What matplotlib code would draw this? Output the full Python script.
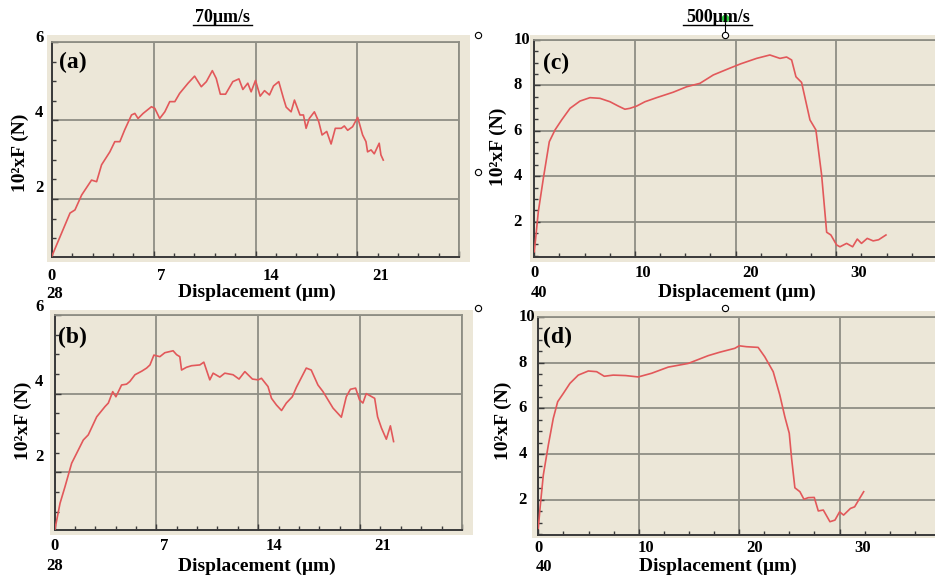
import matplotlib
matplotlib.use("Agg")
import matplotlib.pyplot as plt
import matplotlib.transforms as mtransforms
from matplotlib.patches import Rectangle
from matplotlib.lines import Line2D
from matplotlib.ticker import MultipleLocator

W, H = 935, 577
BG = "#ECE7D8"
GRID = "#8E8E84"
RED = "#E2585A"
DARK = "#3A3A3A"
FONT = "Liberation Serif"

# (a) 70 um/s, first run
a_x = [0.0, 0.66, 1.24, 1.58, 2.04, 2.72, 3.07, 3.41, 3.98, 4.32, 4.67, 5.0, 5.47, 5.7, 5.92,
       6.27, 6.84, 7.07, 7.41, 7.76, 8.1, 8.45, 8.78, 9.36, 9.81, 10.27, 10.62, 11.03, 11.3,
       11.58, 11.94, 12.44, 12.86, 13.13, 13.47, 13.7, 14.0, 14.32, 14.62, 14.96, 15.24, 15.6,
       15.92, 16.11, 16.45, 16.68, 17.06, 17.3, 17.48, 17.7, 18.05, 18.35, 18.58, 18.9, 19.2,
       19.49, 19.9, 20.11, 20.34, 20.68, 21.03, 21.37, 21.6, 21.71, 21.95, 22.17, 22.51, 22.63, 22.79]
a_y = [0.55, 1.13, 1.64, 1.72, 2.10, 2.48, 2.44, 2.87, 3.2, 3.46, 3.46, 3.76, 4.14, 4.18, 4.05,
       4.18, 4.35, 4.31, 4.05, 4.22, 4.48, 4.48, 4.69, 4.95, 5.13, 4.86, 4.99, 5.27, 5.07,
       4.67, 4.67, 4.99, 5.06, 4.79, 4.95, 4.73, 5.02, 4.62, 4.76, 4.65, 4.88, 4.99,
       4.57, 4.34, 4.22, 4.52, 4.14, 4.14, 3.8, 4.05, 4.22, 3.97, 3.63, 3.72, 3.4,
       3.8, 3.8, 3.86, 3.75, 3.84, 4.08, 3.63, 3.46, 3.2, 3.25, 3.15, 3.42, 3.12, 2.99]

# (b) 70 um/s, second run
b_x = [0.03, 0.38, 0.72, 1.18, 1.52, 1.98, 2.32, 2.9, 3.47, 3.7, 4.0, 4.22, 4.61, 4.95, 5.18,
       5.53, 5.99, 6.33, 6.56, 6.83, 7.24, 7.58, 8.15, 8.39, 8.61, 8.73, 9.07, 9.42, 9.99, 10.26,
       10.67, 10.9, 11.36, 11.7, 12.27, 12.68, 13.08, 13.6, 13.99, 14.22, 14.67, 14.91, 15.25,
       15.6, 15.93, 16.34, 16.62, 17.3, 17.64, 18.1, 18.45, 19.14, 19.71, 20.05, 20.33, 20.69,
       20.96, 21.19, 21.42, 22.0, 22.2, 22.47, 22.8, 23.08, 23.3]
b_y = [0.55, 1.21, 1.63, 2.23, 2.48, 2.82, 2.95, 3.41, 3.67, 3.76, 4.05, 3.92, 4.22, 4.24, 4.31,
       4.48, 4.57, 4.65, 4.73, 4.98, 4.94, 5.04, 5.09, 4.99, 4.94, 4.6, 4.67, 4.71, 4.73, 4.80,
       4.35, 4.52, 4.42, 4.52, 4.48, 4.37, 4.56, 4.37, 4.35, 4.39, 4.18, 3.88, 3.71,
       3.57, 3.76, 3.92, 4.16, 4.65, 4.6, 4.22, 4.05, 3.63, 3.4, 3.92, 4.11, 4.14,
       3.84, 3.76, 4.0, 3.88, 3.41, 3.12, 2.84, 3.18, 2.78]

# (c) 500 um/s, first run
c_x = [0.0, 0.4, 0.9, 1.49, 2.06, 2.72, 3.55, 4.54, 5.53, 6.52, 7.52, 8.34, 9.0, 9.5, 10.17,
       10.99, 12.15, 13.8, 15.13, 16.45, 17.78, 19.37, 20.5, 22.08, 23.4, 24.4, 25.06, 25.56,
       25.99, 26.55, 27.38, 27.97, 28.54, 29.04, 29.46, 30.03, 30.36, 31.02, 31.62, 32.08,
       32.5, 33.07, 33.66, 34.2, 34.93]
c_y = [0.67, 2.44, 3.91, 5.52, 6.04, 6.48, 6.99, 7.31, 7.46, 7.43, 7.28, 7.09, 6.95, 6.99, 7.09,
       7.28, 7.46, 7.70, 7.94, 8.09, 8.46, 8.75, 8.95, 9.19, 9.34, 9.19, 9.25, 9.12,
       8.38, 8.13, 6.48, 6.04, 4.05, 1.53, 1.41, 0.97, 0.89, 1.04, 0.89, 1.23,
       1.04, 1.26, 1.15, 1.2, 1.41]

# (d) 500 um/s, second run
d_x = [0.0, 0.17, 0.5, 1.0, 1.49, 1.93, 2.49, 3.15, 3.98, 4.98, 5.81, 6.57, 7.46, 8.7, 9.95,
       11.28, 12.94, 14.93, 16.92, 18.07, 19.57, 20.0, 20.73, 21.89, 22.55, 23.39, 24.05, 24.55,
       24.99, 25.22, 25.55, 26.05, 26.45, 26.88, 27.48, 27.88, 28.38, 29.04, 29.54, 30.0,
       30.4, 31.08, 31.5, 32.0, 32.4]
d_y = [0.76, 1.63, 3.09, 4.4, 5.56, 6.29, 6.65, 7.09, 7.45, 7.63, 7.6, 7.40, 7.45, 7.43, 7.37,
       7.53, 7.80, 7.96, 8.3, 8.45, 8.62, 8.73, 8.69, 8.66, 8.25, 7.6, 6.58, 5.63,
       4.91, 3.82, 2.53, 2.36, 2.03, 2.10, 2.11, 1.52, 1.56, 1.05, 1.12, 1.48,
       1.34, 1.63, 1.7, 2.07, 2.36]

slow_xticks = [0, 7, 14, 21]
slow_yticks = [6, 4, 2]
fast_xticks = [0, 10, 20, 30]
fast_yticks = [10, 8, 6, 4, 2]

fig = plt.figure(figsize=(W / 100, H / 100), dpi=100)


def fx(px):
    return px / W


def fy(py):
    return 1 - py / H


def ftext(px, py, s, size, **kw):
    fig.text(fx(px), fy(py), s, fontsize=size, fontweight="bold", family=FONT, **kw)


def panel(box, bg, xs, ys, xmax, xmaj, xmin_step, ylim, xticks, yticks, ystretch, ylab_dx, xlab_dy, end_lbl, end_off):
    l, t, r, b = box
    bl, bt, br, bb = bg
    fig.patches.append(Rectangle((fx(bl), fy(bb)), fx(br) - fx(bl), fy(bt) - fy(bb),
                                 transform=fig.transFigure, facecolor=BG, edgecolor="none", zorder=-10))
    ax = fig.add_axes([fx(l), fy(b), fx(r) - fx(l), fy(t) - fy(b)])
    ax.set_facecolor(BG)
    ax.plot(xs, ys, color=RED, lw=1.2, zorder=3)
    ax.set_xlim(0, xmax)
    ax.set_ylim(*ylim)
    ax.xaxis.set_major_locator(MultipleLocator(xmaj))
    ax.xaxis.set_minor_locator(MultipleLocator(xmin_step))
    ax.yaxis.set_major_locator(MultipleLocator(2))
    ax.yaxis.set_minor_locator(MultipleLocator(0.5))
    ax.grid(True, which="major", color=GRID, lw=1.3)
    ax.set_axisbelow(True)
    ax.tick_params(which="both", direction="in", color=DARK, labelbottom=False, labelleft=False)
    ax.tick_params(which="major", length=4, width=1)
    ax.tick_params(which="minor", length=3, width=1)
    for side in ("left", "bottom"):
        ax.spines[side].set_color(DARK)
        ax.spines[side].set_linewidth(1.4)
    for side in ("top", "right"):
        ax.spines[side].set_color(GRID)
        ax.spines[side].set_linewidth(1.3)

    # tick labels, drawn a little stretched like in the scanned figure
    tx = mtransforms.blended_transform_factory(ax.transData, ax.transAxes)
    tx = mtransforms.offset_copy(tx, fig=fig, x=0, y=-xlab_dy, units="dots")
    for v in xticks:
        ax.text(v * 1.075, 0, str(v), transform=tx, ha="center", va="center", clip_on=False,
                fontsize=12, fontweight="bold", family=FONT)
    ty = mtransforms.blended_transform_factory(ax.transAxes, ax.transData)
    ty = mtransforms.offset_copy(ty, fig=fig, x=ylab_dx, y=0, units="dots")
    for v in yticks:
        ax.text(0, v * ystretch[0] + ystretch[1], str(v), transform=ty, ha="left", va="center",
                clip_on=False, fontsize=12, fontweight="bold", family=FONT)
    te = mtransforms.offset_copy(ax.transAxes, fig=fig, x=end_off[0], y=-end_off[1], units="dots")
    ax.text(0, 0, end_lbl, transform=te, ha="center", va="center", clip_on=False,
            fontsize=12, fontweight="bold", family=FONT)
    return ax


panel((52, 42, 459, 257), (47, 35, 470, 262), a_x, a_y, 28, 7, 1.4, (0.52, 6),
      slow_xticks, slow_yticks, (0.955, 0.37), -17, 19, "28", (3, 37))
panel((54.5, 315, 462, 530), (50, 310, 473, 535), b_x, b_y, 28, 7, 1.4, (0.53, 6),
      slow_xticks, slow_yticks, (0.955, 0.48), -19.5, 16, "28", (0, 36))
panel((534.3, 40, 937, 257), (530, 35, 935, 262), c_x, c_y, 40, 10, 2.5, (0.44, 10),
      fast_xticks, fast_yticks, (1, 0), -21, 16, "40", (5, 36))
panel((538.3, 316.7, 940, 535), (532, 311, 935, 538), d_x, d_y, 40, 10, 2.5, (0.47, 10),
      fast_xticks, fast_yticks, (1, 0), -20, 12.5, "40", (6, 32))

# panel letters
for px, py, s in [(59, 62, "(a)"), (58, 337, "(b)"), (543, 63, "(c)"), (543, 337, "(d)")]:
    ftext(px, py, s, 17, ha="left", va="center")

# axis titles
for px, py in [(257, 292), (257, 566), (737, 292), (717.5, 566)]:
    ftext(px, py, "Displacement (\u03bcm)", 14, ha="center", va="center")
for px, py in [(20, 153), (23, 421), (498, 147), (503, 421)]:
    ftext(px, py, "10\u00b2xF (N)", 14, ha="center", va="center", rotation=90)

# column headings, underlined
ftext(223, 17.5, "70\u03bcm/s", 13, ha="center", va="center")
ftext(718, 17.5, "500\u03bcm/s", 13, ha="center", va="center")
for x0, x1 in [(193, 252), (683, 752)]:
    fig.add_artist(Line2D([fx(x0), fx(x1)], [fy(25), fy(25)], color="black", lw=1))

# selection handles left over in the original figure
fig.add_artist(Line2D([fx(725), fx(725)], [fy(19), fy(33)], color="black", lw=0.8))
for px, py in [(478, 35), (478, 172), (478, 308), (725, 35), (725, 308)]:
    fig.add_artist(Line2D([fx(px)], [fy(py)], marker="o", ms=4.5, mfc="white", mec="black", mew=0.8))
fig.add_artist(Line2D([fx(725)], [fy(18)], marker="o", ms=4.5, mfc="#2ECC40", mec="#2ECC40"))

fig.savefig("out.png", dpi=100)
